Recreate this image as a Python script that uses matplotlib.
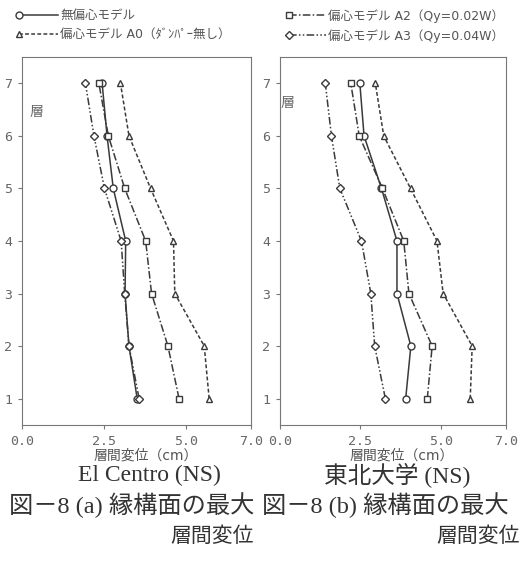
import numpy as np
import matplotlib
matplotlib.use("Agg")
import matplotlib.pyplot as plt
from matplotlib.legend_handler import HandlerLine2D

plt.rcParams['font.family'] = ['DejaVu Sans', 'Noto Sans CJK JP']

floors = [1, 2, 3, 4, 5, 6, 7]

# El Centro (NS)
a_none = [3.52, 3.27, 3.15, 3.17, 2.79, 2.60, 2.45]
a_A0 = [5.72, 5.57, 4.67, 4.63, 3.93, 3.27, 3.01]
a_A2 = [4.80, 4.46, 3.96, 3.78, 3.14, 2.64, 2.35]
a_A3 = [3.58, 3.27, 3.14, 3.03, 2.52, 2.20, 1.94]

# 東北大学 (NS)
b_none = [3.90, 4.06, 3.63, 3.63, 3.15, 2.61, 2.48]
b_A0 = [5.90, 5.96, 5.06, 4.87, 4.05, 3.22, 2.96]
b_A2 = [4.57, 4.72, 4.00, 3.84, 3.18, 2.46, 2.20]
b_A3 = [3.27, 2.94, 2.82, 2.53, 1.86, 1.60, 1.41]

xticks = [0.0, 2.5, 5.0, 7.0]
xticklabels = ['0.0', '2.5', '5.0', '7.0']

labels = ['無偏心モデル', '偏心モデル A0（ﾀﾞﾝﾊﾟｰ無し）',
          '偏心モデル A2（Qy=0.02W）', '偏心モデル A3（Qy=0.04W）']

ink = '#3a3a3a'
txt = '#555555'
styles = [
    dict(marker='o', ls='-', ms=5),
    dict(marker='^', ls=(0, (2.5, 1.5)), ms=5),
    dict(marker='s', ls=(0, (5, 1.5, 1, 1.5)), ms=5),
    dict(marker='D', ls=(0, (5, 1.5, 1, 1.5, 1, 1.5)), ms=4.5),
]


class LeftMarker(HandlerLine2D):
    # marker at the left end of the legend line, as in the original figure
    def create_artists(self, *args, **kwargs):
        arts = super().create_artists(*args, **kwargs)
        arts[0].set_markevery([0])
        return arts


fig = plt.figure(figsize=(5.23, 5.65), dpi=100)
ax1 = fig.add_axes([0.042, 0.248, 0.438, 0.651])
ax2 = fig.add_axes([0.535, 0.248, 0.432, 0.651])

handles = []
for ax, series in [(ax1, [a_none, a_A0, a_A2, a_A3]),
                   (ax2, [b_none, b_A0, b_A2, b_A3])]:
    hs = []
    for vals, st, lab in zip(series, styles, labels):
        h, = ax.plot(vals, floors, color=ink, lw=1.1, mfc='white', mec=ink,
                     mew=1.0, label=lab, **st)
        hs.append(h)
    handles = hs
    ax.set_xlim(0, 7)
    ax.set_ylim(0.5, 7.5)
    ax.set_xticks(xticks)
    ax.set_xticklabels(xticklabels)
    ax.set_yticks(floors)
    ax.tick_params(direction='out', length=3, width=0.8, colors='#777777',
                   labelcolor='#666666', labelsize=9.5, pad=4)
    for lab in ax.get_xticklabels() + ax.get_yticklabels():
        lab.set_family('DejaVu Sans Mono')
    for s in ax.spines.values():
        s.set_color('#777777')
        s.set_linewidth(0.8)
    ax.set_xlabel('層間変位（cm）', fontsize=10, color=txt, labelpad=3)
    ax.xaxis.set_label_coords(0.54, -0.065)

ax1.text(0.065, 0.85, '層', transform=ax1.transAxes, fontsize=10, color='#666666',
         ha='center', va='center')
ax2.text(0.035, 0.875, '層', transform=ax2.transAxes, fontsize=10, color='#666666',
         ha='center', va='center')

hm = {h: LeftMarker() for h in handles}
fig.legend(handles[:2], labels[:2], loc='upper left',
           bbox_to_anchor=(0.015, 1.004), frameon=False, fontsize=9,
           handlelength=3.1, handletextpad=0.2, labelspacing=0.5,
           handler_map=hm, labelcolor=txt)
fig.legend(handles[2:], labels[2:], loc='upper left',
           bbox_to_anchor=(0.532, 1.004), frameon=False, fontsize=9,
           handlelength=2.9, handletextpad=0.2, labelspacing=0.5,
           handler_map=hm, labelcolor=txt)

serif = ['Liberation Serif', 'Noto Sans CJK JP']
fig.text(0.285, 0.159, 'El Centro (NS)', family=serif, fontsize=17,
         color='#333333', ha='center', va='center')
fig.text(0.759, 0.159, '東北大学 (NS)', family=serif, fontsize=17,
         color='#333333', ha='center', va='center')
fig.text(0.017, 0.106, '図－8 (a) 縁構面の最大', family=serif, fontsize=17.5,
         color='#333333', ha='left', va='center')
fig.text(0.5, 0.106, '図－8 (b) 縁構面の最大', family=serif, fontsize=17.5,
         color='#333333', ha='left', va='center')
fig.text(0.405, 0.05, '層間変位', family=serif, fontsize=15,
         color='#333333', ha='center', va='center')
fig.text(0.915, 0.05, '層間変位', family=serif, fontsize=15,
         color='#333333', ha='center', va='center')

fig.savefig('out.png', dpi=100)
